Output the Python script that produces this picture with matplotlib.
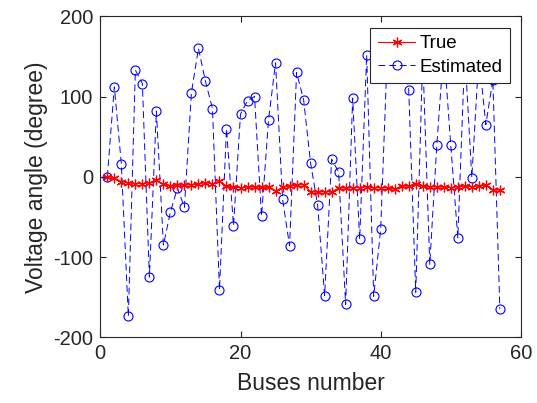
import matplotlib
matplotlib.use("Agg")
import matplotlib.pyplot as plt
import numpy as np

plt.rcParams['font.family'] = ['Liberation Sans', 'DejaVu Sans']
plt.rcParams['axes.unicode_minus'] = False

buses = list(range(1, 58))
true_angle = [0.0, -1.19, -5.99, -7.32, -8.52, -8.65, -7.58, -4.45, -9.56, -11.43,
              -10.17, -10.46, -9.79, -9.33, -7.18, -8.85, -5.39, -11.71, -13.20, -13.41,
              -12.89, -12.84, -12.91, -13.25, -18.13, -12.95, -11.48, -10.45, -9.75, -18.68,
              -19.34, -18.46, -18.50, -14.10, -13.86, -13.59, -13.41, -12.71, -13.46, -13.62,
              -14.05, -15.50, -11.33, -11.86, -9.25, -11.89, -12.49, -12.59, -12.92, -13.39,
              -12.52, -11.47, -12.23, -11.69, -10.78, -16.04, -16.56]
est_angle = [0, 112, 16, -174, 133, 116, -125, 82, -85, -44,
             -14, -38, 105, 160, 119, 85, -141, 60, -61, 78,
             95, 100, -49, 71, 142, -28, -86, 130, 96, 17,
             -35, -148, 22, 6, -159, 98, -78, 152, -149, -65,
             168, 140, 160, 108, -144, 150, -109, 39, 160, 39,
             -76, 155, -1, 150, 65, 121, -165]

fig = plt.figure(figsize=(5.37, 4.03), dpi=100)
ax = fig.add_axes([0.1868, 0.163, 0.7832, 0.7966])

ax.plot(buses, true_angle, color='red', linestyle='-', marker=(6, 2, 0), markersize=7,
        markeredgewidth=0.9, linewidth=0.8, label='True', zorder=3)
ax.plot(buses, est_angle, color='blue', linestyle=(0, (7, 4)), marker='o', markersize=6.5,
        markerfacecolor='none', markeredgewidth=0.8, linewidth=0.7, label='Estimated', zorder=2)

ax.set_xlim(0, 60)
ax.set_ylim(-200, 200)
ax.set_xticks([0, 20, 40, 60])
ax.set_yticks([-200, -100, 0, 100, 200])
ax.tick_params(direction='in', length=4, width=0.8, top=True, right=True,
               labelsize=14.5, colors='#262626', pad=5)
for s in ax.spines.values():
    s.set_color('#262626')
    s.set_linewidth(0.8)

ax.set_xlabel('Buses number', fontsize=16.5, color='#262626', labelpad=6)
ax.set_ylabel('Voltage angle (degree)', fontsize=16.5, color='#262626', labelpad=4)

leg = ax.legend(loc='upper right', fontsize=13.5, frameon=True, fancybox=False,
                edgecolor='#262626', framealpha=1, borderpad=0.4, labelspacing=0.35,
                handlelength=2.0, handletextpad=0.2, borderaxespad=0.6)
leg.get_frame().set_linewidth(0.8)

fig.savefig('out.png', dpi=100)
